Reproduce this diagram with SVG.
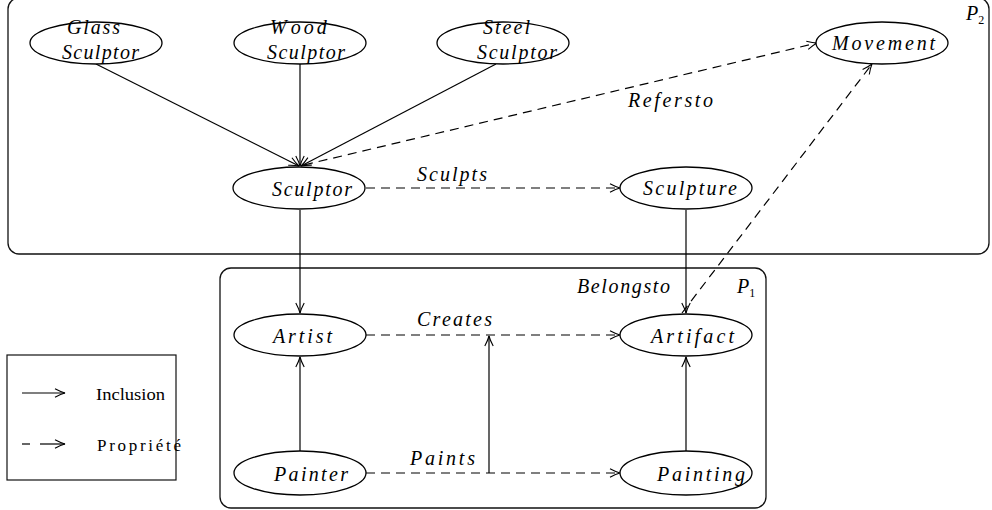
<svg xmlns="http://www.w3.org/2000/svg" width="992" height="510" viewBox="0 0 992 510">
  <style>
    .frame { fill: none; stroke: #111; stroke-width: 1.3; }
    .node ellipse { fill: #fff; stroke: #000; stroke-width: 1.3; }
    .lbl { font-family: "Liberation Serif", "DejaVu Serif", serif; font-style: italic; font-size: 20px; fill: #000; }
    .leg { font-family: "Liberation Serif", "DejaVu Serif", serif; font-size: 17px; fill: #000; }
    .inc { fill: none; stroke: #000; stroke-width: 1.2; }
    .prop { fill: none; stroke: #000; stroke-width: 1.2; stroke-dasharray: 9 6; }
  </style>
  <defs>
    <marker id="arrow" viewBox="-11 -6 13 12" markerWidth="13" markerHeight="12" refX="0" refY="0" orient="auto" markerUnits="userSpaceOnUse">
      <path d="M-10,-4.2 Q-4,-1 0,0 Q-4,1 -10,4.2" fill="none" stroke="#000" stroke-width="1.1" stroke-dasharray="none"/>
    </marker>
  </defs>

  <rect width="992" height="510" fill="#fff"/>

  <!-- package frames -->
  <g id="P2">
    <rect class="frame" x="8" y="-2" width="981" height="256" rx="11" ry="11"/>
    <text class="lbl" x="966" y="20">P<tspan font-size="12" dy="4" font-style="normal">2</tspan></text>
  </g>
  <g id="P1">
    <rect class="frame" x="220" y="268" width="546" height="240" rx="11" ry="11"/>
    <text class="lbl" x="737" y="293">P<tspan font-size="12" dy="4" font-style="normal">1</tspan></text>
  </g>

  <!-- connectors -->
  <g id="connectors">
    <line class="inc" x1="96" y1="64" x2="299" y2="166" marker-end="url(#arrow)"/>
    <line class="inc" x1="300" y1="64" x2="300" y2="166" marker-end="url(#arrow)"/>
    <line class="inc" x1="496" y1="64" x2="301" y2="166" marker-end="url(#arrow)"/>
    <line class="prop" x1="304" y1="165" x2="817" y2="43" marker-end="url(#arrow)"/>
    <line class="prop" x1="366" y1="188" x2="620" y2="188" marker-end="url(#arrow)"/>
    <line class="inc" x1="300" y1="210" x2="300" y2="313" marker-end="url(#arrow)"/>
    <line class="inc" x1="686" y1="210" x2="686" y2="313" marker-end="url(#arrow)"/>
    <line class="prop" x1="682" y1="313" x2="872" y2="64" marker-end="url(#arrow)"/>
    <line class="prop" x1="366" y1="335" x2="620" y2="335" marker-end="url(#arrow)"/>
    <line class="prop" x1="366" y1="473" x2="620" y2="473" marker-end="url(#arrow)"/>
    <line class="inc" x1="489" y1="473" x2="489" y2="336" marker-end="url(#arrow)"/>
    <line class="inc" x1="300" y1="451" x2="300" y2="357" marker-end="url(#arrow)"/>
    <line class="inc" x1="686" y1="451" x2="686" y2="357" marker-end="url(#arrow)"/>
  </g>

  <!-- connector labels -->
  <g id="edge-labels">
    <text class="lbl" x="628" y="107" textLength="85" lengthAdjust="spacing">Refersto</text>
    <text class="lbl" x="417" y="181" textLength="70" lengthAdjust="spacing">Sculpts</text>
    <text class="lbl" x="417" y="326" textLength="75" lengthAdjust="spacing">Creates</text>
    <text class="lbl" x="410" y="465" textLength="65" lengthAdjust="spacing">Paints</text>
    <text class="lbl" x="577" y="293" textLength="93" lengthAdjust="spacing">Belongsto</text>
  </g>

  <!-- nodes -->
  <g id="glass-sculptor" class="node">
    <ellipse cx="96" cy="43" rx="66" ry="21"/>
    <text class="lbl" x="67" y="34" textLength="53" lengthAdjust="spacing">Glass</text>
    <text class="lbl" x="62" y="59" textLength="77" lengthAdjust="spacing">Sculptor</text>
  </g>
  <g id="wood-sculptor" class="node">
    <ellipse cx="300" cy="43" rx="66" ry="21"/>
    <text class="lbl" x="270" y="34">W<tspan dx="6" textLength="36" lengthAdjust="spacing">ood</tspan></text>
    <text class="lbl" x="267" y="59" textLength="78" lengthAdjust="spacing">Sculptor</text>
  </g>
  <g id="steel-sculptor" class="node">
    <ellipse cx="503" cy="43" rx="66" ry="21"/>
    <text class="lbl" x="483" y="34" textLength="47" lengthAdjust="spacing">Steel</text>
    <text class="lbl" x="477" y="59" textLength="80" lengthAdjust="spacing">Sculptor</text>
  </g>
  <g id="movement" class="node">
    <ellipse cx="882" cy="43" rx="66" ry="21"/>
    <text class="lbl" x="832" y="50" textLength="103" lengthAdjust="spacing">Movement</text>
  </g>
  <g id="sculptor" class="node">
    <ellipse cx="299" cy="188" rx="66" ry="21"/>
    <text class="lbl" x="272" y="196" textLength="80" lengthAdjust="spacing">Sculptor</text>
  </g>
  <g id="sculpture" class="node">
    <ellipse cx="686" cy="188" rx="66" ry="21"/>
    <text class="lbl" x="643" y="195" textLength="94" lengthAdjust="spacing">Sculpture</text>
  </g>
  <g id="artist" class="node">
    <ellipse cx="300" cy="335" rx="66" ry="21"/>
    <text class="lbl" x="273" y="343" textLength="59" lengthAdjust="spacing">Artist</text>
  </g>
  <g id="artifact" class="node">
    <ellipse cx="686" cy="335" rx="66" ry="21"/>
    <text class="lbl" x="651" y="343" textLength="83" lengthAdjust="spacing">Artifact</text>
  </g>
  <g id="painter" class="node">
    <ellipse cx="300" cy="473" rx="66" ry="22"/>
    <text class="lbl" x="274" y="481" textLength="74" lengthAdjust="spacing">Painter</text>
  </g>
  <g id="painting" class="node">
    <ellipse cx="686" cy="473" rx="66" ry="22"/>
    <text class="lbl" x="657" y="481" textLength="88" lengthAdjust="spacing">Painting</text>
  </g>

  <!-- legend -->
  <g id="legend">
    <rect x="7" y="355" width="169" height="125" fill="none" stroke="#111" stroke-width="1.2"/>
    <line class="inc" x1="22" y1="393" x2="65" y2="393" marker-end="url(#arrow)"/>
    <text class="leg" x="96" y="400" textLength="69" lengthAdjust="spacingAndGlyphs">Inclusion</text>
    <line class="inc" x1="22" y1="444" x2="30" y2="444"/>
    <line class="inc" x1="40" y1="444" x2="65" y2="444" marker-end="url(#arrow)"/>
    <text class="leg" x="97" y="451" textLength="84" lengthAdjust="spacing">Propriété</text>
  </g>
</svg>
